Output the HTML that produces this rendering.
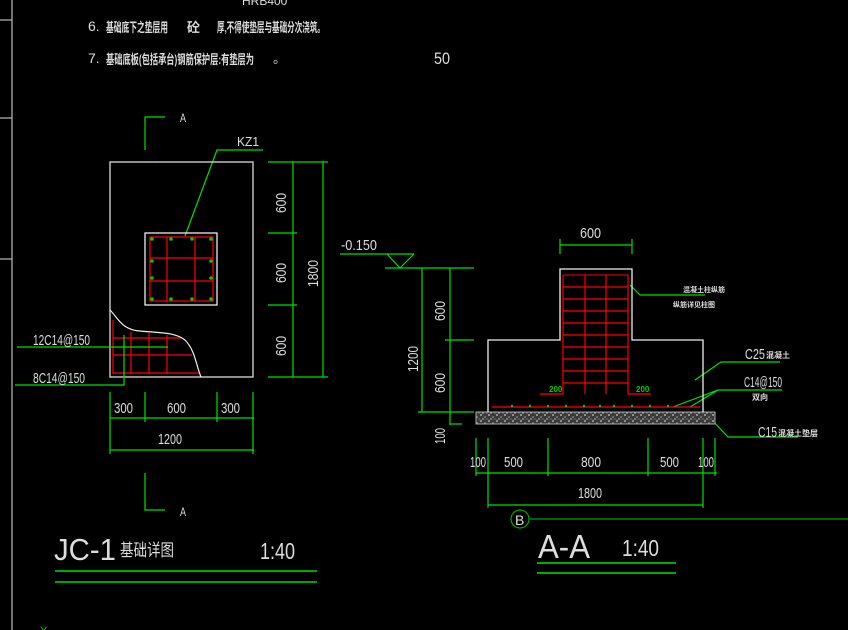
<!DOCTYPE html>
<html><head><meta charset="utf-8"><style>
html,body{margin:0;padding:0;background:#000;}
svg{display:block;}
text{font-family:"Liberation Sans","Noto Sans CJK SC",sans-serif;}
</style></head><body>
<svg width="848" height="630" viewBox="0 0 848 630" xmlns="http://www.w3.org/2000/svg">
<defs>
<pattern id="hatch" width="8" height="6" patternUnits="userSpaceOnUse">
<rect width="8" height="6" fill="#3a3a3a"/>
<circle cx="1" cy="1" r="0.9" fill="#ccc"/><circle cx="5" cy="3" r="0.8" fill="#aaa"/><circle cx="3" cy="5" r="0.7" fill="#ddd"/><circle cx="7" cy="5" r="0.6" fill="#999"/>
</pattern>
</defs>
<rect width="848" height="630" fill="#000"/>
<g stroke="#bbb" stroke-width="1.2">
<line x1="12" y1="0" x2="12" y2="630"/>
<line x1="0" y1="20" x2="12" y2="20"/>
<line x1="0" y1="118" x2="12" y2="118"/>
<line x1="0" y1="259" x2="12" y2="259"/>
</g>
<g fill="#ddd" font-size="13">
<text x="242" y="5" font-size="12">HRB400</text>
<text x="88" y="31" font-size="14">6.</text>
<text x="106" y="32" font-size="13" font-weight="bold" textLength="62" lengthAdjust="spacingAndGlyphs">基础底下之垫层用</text>
<text x="187" y="32" font-size="13" font-weight="bold">砼</text>
<text x="217" y="32" font-size="13" font-weight="bold" textLength="108" lengthAdjust="spacingAndGlyphs">厚,不得使垫层与基础分次浇筑。</text>
<text x="88" y="63" font-size="14">7.</text>
<text x="106" y="64" font-size="13" font-weight="bold" textLength="148" lengthAdjust="spacingAndGlyphs">基础底板(包括承台)钢筋保护层:有垫层为</text>
<text x="273" y="63">。</text>
<text x="434" y="64" font-size="17" textLength="16" lengthAdjust="spacingAndGlyphs">50</text>
</g>

<g stroke="#00e000" stroke-width="1.2" fill="none">
<polyline points="165,117 145,117 145,150"/>
<polyline points="145,473 145,510 165,510"/>
<polyline points="185,236 217,150 263,150"/>
</g>
<g fill="#ddd" font-size="12"><text x="180" y="122" textLength="6" lengthAdjust="spacingAndGlyphs">A</text><text x="180" y="516" textLength="6" lengthAdjust="spacingAndGlyphs">A</text><text x="237" y="146" font-size="13" textLength="22" lengthAdjust="spacingAndGlyphs">KZ1</text></g>
<rect x="110" y="162" width="143" height="215" fill="none" stroke="#ccc" stroke-width="1.4"/>
<rect x="145" y="233" width="72" height="72" fill="none" stroke="#fff" stroke-width="1.2"/>
<g stroke="#f00" stroke-width="1.2" fill="none">
<rect x="150" y="237" width="63" height="64"/>
<line x1="167" y1="237" x2="167" y2="301"/><line x1="195" y1="237" x2="195" y2="301"/>
<line x1="150" y1="258" x2="213" y2="258"/><line x1="150" y1="281" x2="213" y2="281"/>
<line x1="113" y1="320" x2="113" y2="374"/>
<line x1="131" y1="332" x2="131" y2="374"/><line x1="149" y1="333" x2="149" y2="374"/><line x1="167" y1="335" x2="167" y2="374"/>
<line x1="113" y1="338" x2="182" y2="338"/><line x1="113" y1="355" x2="192" y2="355"/><line x1="113" y1="373" x2="199" y2="373"/>
</g>
<g fill="#0c0">
<circle cx="152" cy="239" r="1.8"/><circle cx="171" cy="239" r="1.8"/><circle cx="192" cy="239" r="1.8"/><circle cx="211" cy="239" r="1.8"/>
<circle cx="152" cy="299" r="1.8"/><circle cx="171" cy="299" r="1.8"/><circle cx="192" cy="299" r="1.8"/><circle cx="211" cy="299" r="1.8"/>
<circle cx="152" cy="261" r="1.8"/><circle cx="152" cy="278" r="1.8"/><circle cx="211" cy="261" r="1.8"/><circle cx="211" cy="278" r="1.8"/>
</g>
<path d="M110,310 C118,318 122,330 140,331 C160,333 175,332 185,340 C195,350 196,365 201,377" fill="none" stroke="#eee" stroke-width="1.2"/>
<g stroke="#00e000" stroke-width="1.2" fill="none">
<line x1="17" y1="347" x2="168" y2="347"/>
<polyline points="15,385 124,385 124,335"/>
<line x1="293" y1="162" x2="293" y2="377"/><line x1="323" y1="162" x2="323" y2="377"/>
<line x1="268" y1="162" x2="328" y2="162"/><line x1="268" y1="233" x2="297" y2="233"/>
<line x1="268" y1="305" x2="297" y2="305"/><line x1="268" y1="377" x2="328" y2="377"/>
<line x1="110" y1="418" x2="254" y2="418"/><line x1="110" y1="450" x2="254" y2="450"/>
<line x1="110" y1="392" x2="110" y2="454"/><line x1="145" y1="392" x2="145" y2="422"/>
<line x1="217" y1="392" x2="217" y2="422"/><line x1="253" y1="392" x2="253" y2="454"/>
</g>
<g fill="#ddd" font-size="15">
<text x="33" y="345" textLength="57" lengthAdjust="spacingAndGlyphs">12C14@150</text>
<text x="33" y="383" textLength="52" lengthAdjust="spacingAndGlyphs">8C14@150</text>
<text x="114" y="413" textLength="19" lengthAdjust="spacingAndGlyphs">300</text><text x="167" y="413" textLength="19" lengthAdjust="spacingAndGlyphs">600</text><text x="221" y="413" textLength="19" lengthAdjust="spacingAndGlyphs">300</text>
<text x="158" y="444" textLength="24" lengthAdjust="spacingAndGlyphs">1200</text>
<text transform="translate(286,213) rotate(-90)" textLength="20" lengthAdjust="spacingAndGlyphs">600</text>
<text transform="translate(286,283) rotate(-90)" textLength="20" lengthAdjust="spacingAndGlyphs">600</text>
<text transform="translate(286,356) rotate(-90)" textLength="20" lengthAdjust="spacingAndGlyphs">600</text>
<text transform="translate(318,287) rotate(-90)" textLength="27" lengthAdjust="spacingAndGlyphs">1800</text>
</g>

<g stroke="#00e000" stroke-width="1.2" fill="none">
<line x1="340" y1="254" x2="414" y2="254"/>
<polyline points="387,254 400,268 414,254"/>
<line x1="385" y1="268" x2="474" y2="268"/>
<line x1="422" y1="268" x2="422" y2="412"/><line x1="450" y1="268" x2="450" y2="425"/>
<line x1="445" y1="340" x2="474" y2="340"/><line x1="418" y1="412" x2="474" y2="412"/>
<line x1="450" y1="424" x2="462" y2="424"/>
<line x1="560" y1="245" x2="632" y2="245"/><line x1="560" y1="239" x2="560" y2="254"/><line x1="632" y1="239" x2="632" y2="254"/>
<line x1="476" y1="473" x2="717" y2="473"/><line x1="488" y1="505" x2="703" y2="505"/>
<line x1="476" y1="438" x2="476" y2="476"/><line x1="488" y1="438" x2="488" y2="508"/>
<line x1="548" y1="438" x2="548" y2="476"/><line x1="648" y1="438" x2="648" y2="476"/>
<line x1="703" y1="438" x2="703" y2="508"/><line x1="715" y1="438" x2="715" y2="476"/>
<polyline points="630,285 640,295 705,295"/>
<polyline points="695,380 721,362 780,362"/>
<polyline points="673,407 718,390 782,390"/><line x1="690" y1="407" x2="718" y2="390"/>
<polyline points="710,418 728,437 798,437"/>
</g>
<g fill="#ddd" font-size="15">
<text x="341" y="250" textLength="36" lengthAdjust="spacingAndGlyphs">-0.150</text>
<text transform="translate(445,321) rotate(-90)" textLength="20" lengthAdjust="spacingAndGlyphs">600</text>
<text transform="translate(445,393) rotate(-90)" textLength="20" lengthAdjust="spacingAndGlyphs">600</text>
<text transform="translate(418,372) rotate(-90)" textLength="26" lengthAdjust="spacingAndGlyphs">1200</text>
<text transform="translate(445,444) rotate(-90)" textLength="16" lengthAdjust="spacingAndGlyphs">100</text>
<text x="580" y="238" textLength="21" lengthAdjust="spacingAndGlyphs">600</text>
<text x="470" y="467" textLength="16" lengthAdjust="spacingAndGlyphs">100</text><text x="504" y="467" textLength="19" lengthAdjust="spacingAndGlyphs">500</text><text x="581" y="467" textLength="20" lengthAdjust="spacingAndGlyphs">800</text>
<text x="660" y="467" textLength="19" lengthAdjust="spacingAndGlyphs">500</text><text x="698" y="467" textLength="16" lengthAdjust="spacingAndGlyphs">100</text>
<text x="578" y="498" textLength="24" lengthAdjust="spacingAndGlyphs">1800</text>
<text x="683" y="292" font-size="7" font-weight="bold">混凝土柱纵筋</text>
<text x="673" y="307" font-size="7" font-weight="bold">纵筋详见柱图</text>
<text x="745" y="359" textLength="20" lengthAdjust="spacingAndGlyphs">C25</text><text x="766" y="358" font-size="8" font-weight="bold">混凝土</text>
<text x="744" y="387" textLength="38" lengthAdjust="spacingAndGlyphs">C14@150</text>
<text x="752" y="400" font-size="8" font-weight="bold">双向</text>
<text x="758" y="437" textLength="19" lengthAdjust="spacingAndGlyphs">C15</text><text x="778" y="436" font-size="8" font-weight="bold">混凝土垫层</text>
</g>
<rect x="476" y="412" width="239" height="12" fill="url(#hatch)" stroke="#aaa" stroke-width="1"/>
<polyline points="488,412 488,340 560,340 560,269 632,269 632,340 703,340 703,412" fill="none" stroke="#eee" stroke-width="1.3"/>
<g stroke="#f00" stroke-width="1.2" fill="none">
<line x1="563" y1="275" x2="628" y2="275" stroke="#c00"/>
<line x1="563" y1="275" x2="563" y2="394"/><line x1="628" y1="275" x2="628" y2="394"/>
<line x1="585" y1="275" x2="585" y2="394"/><line x1="606" y1="275" x2="606" y2="394"/>
<line x1="563" y1="287" x2="628" y2="287"/><line x1="563" y1="299" x2="628" y2="299"/>
<line x1="563" y1="311" x2="628" y2="311"/><line x1="563" y1="323" x2="628" y2="323"/>
<line x1="563" y1="335" x2="628" y2="335"/><line x1="563" y1="347" x2="628" y2="347"/>
<line x1="563" y1="359" x2="628" y2="359"/><line x1="563" y1="371" x2="628" y2="371"/>
<line x1="563" y1="383" x2="628" y2="383"/>
<line x1="540" y1="394" x2="563" y2="394"/><line x1="628" y1="394" x2="651" y2="394"/>
<line x1="492" y1="407" x2="700" y2="407"/>
</g>
<g fill="#0c0" font-size="8" font-weight="bold"><text x="549" y="392">200</text><text x="636" y="392">200</text></g>
<g fill="#0c0"><circle cx="512" cy="406" r="1.2"/><circle cx="530" cy="406" r="1.2"/><circle cx="548" cy="406" r="1.2"/><circle cx="566" cy="406" r="1.2"/><circle cx="584" cy="406" r="1.2"/><circle cx="600" cy="406" r="1.2"/><circle cx="614" cy="406" r="1.2"/><circle cx="632" cy="406" r="1.2"/><circle cx="650" cy="406" r="1.2"/><circle cx="668" cy="406" r="1.2"/></g>

<circle cx="520" cy="519" r="9" fill="none" stroke="#0a0" stroke-width="1.2"/>
<text x="515" y="525" fill="#ddd" font-size="14">B</text>
<line x1="529" y1="519" x2="848" y2="519" stroke="#060" stroke-width="2"/>

<text x="54" y="560" fill="#ddd" font-size="31" textLength="62" lengthAdjust="spacingAndGlyphs">JC-1</text>
<text x="120" y="556" fill="#ddd" font-size="17" textLength="54" lengthAdjust="spacingAndGlyphs">基础详图</text>
<text x="260" y="559" fill="#ddd" font-size="23" textLength="35" lengthAdjust="spacingAndGlyphs">1:40</text>
<line x1="55" y1="571" x2="317" y2="571" stroke="#0d0" stroke-width="1.5"/>
<line x1="55" y1="582" x2="317" y2="582" stroke="#0d0" stroke-width="1.5"/>
<text x="538" y="558" fill="#ddd" font-size="33" textLength="52" lengthAdjust="spacingAndGlyphs">A-A</text>
<text x="622" y="556" fill="#ddd" font-size="23" textLength="37" lengthAdjust="spacingAndGlyphs">1:40</text>
<line x1="537" y1="563" x2="676" y2="563" stroke="#0a0" stroke-width="2"/>
<line x1="537" y1="573" x2="676" y2="573" stroke="#0a0" stroke-width="2"/>
<text x="40" y="634" fill="#0c0" font-size="11">Y</text>
</svg>
</body></html>
